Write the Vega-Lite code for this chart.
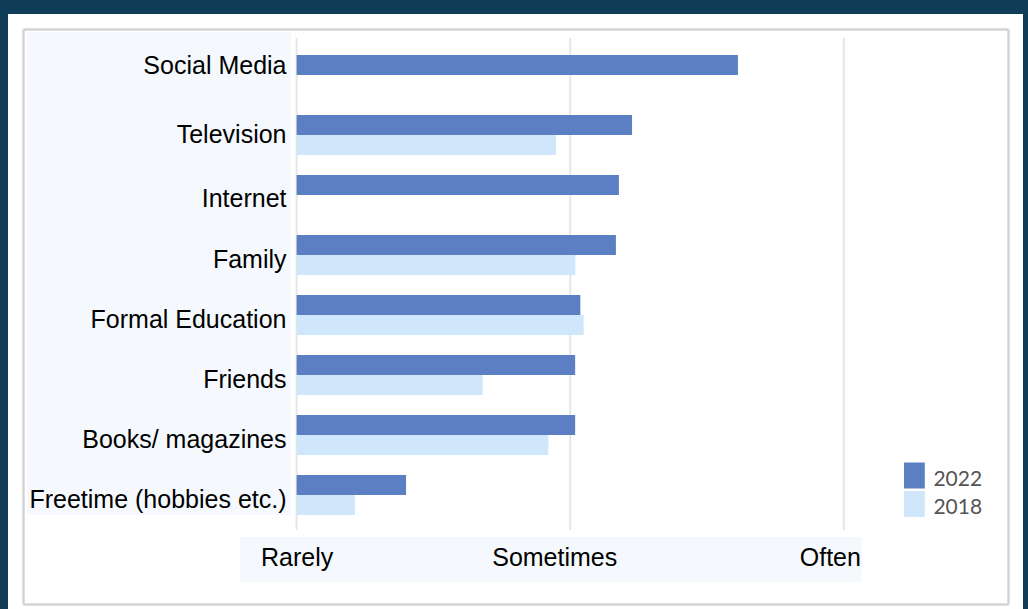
{
  "$schema": "https://vega.github.io/schema/vega-lite/v6.json",
  "width": 985,
  "height": 575,
  "autosize": {"type": "none"},
  "padding": {"left": 23, "top": 29, "right": 20, "bottom": 5},
  "background": "#0f3c56",
  "config": {
    "view": {"fill": "white", "stroke": "white", "strokeWidth": 30},
    "font": "Liberation Sans"
  },
  "resolve": {"axis": {"x": "independent", "y": "independent"}},
  "layer": [
    {
      "data": {"values": [{"panel": "labels"}]},
      "mark": {"type": "rect", "color": "#f5f9fd"},
      "encoding": {
        "x": {"datum": 0.0146, "type": "quantitative", "axis": null},
        "x2": {"datum": 0.9795},
        "y": {"datum": "Social Media", "bandPosition": -0.575, "axis": null},
        "y2": {"datum": "Freetime (hobbies etc.)", "bandPosition": 1.0}
      }
    },
    {
      "data": {"values": [{"panel": "axis"}]},
      "mark": {"type": "rect", "color": "#f5f9fd"},
      "encoding": {
        "x": {"datum": 0.7931, "type": "quantitative", "axis": null},
        "x2": {"datum": 3.0658},
        "y": {"datum": "Freetime (hobbies etc.)", "bandPosition": 1.55, "axis": null},
        "y2": {"datum": "Freetime (hobbies etc.)", "bandPosition": 2.675}
      }
    },
    {
      "data": {"values": [{"level": 1}, {"level": 2}, {"level": 3}]},
      "mark": {"type": "rule", "color": "#e6e6e6", "strokeWidth": 2},
      "encoding": {
        "x": {"field": "level", "type": "quantitative", "axis": {"orient": "top", "labels": false, "ticks": false, "grid": false, "title": null, "domainColor": "#d3d3d3", "domainWidth": 2.5, "zindex": 1}},
        "y": {"datum": "Social Media", "bandPosition": -0.425, "axis": {"orient": "right", "labels": false, "ticks": false, "grid": false, "title": null, "domainColor": "#d3d3d3", "domainWidth": 2.5, "zindex": 1}},
        "y2": {"datum": "Freetime (hobbies etc.)", "bandPosition": 1.375}
      }
    },
    {
      "data": {"values": [
        {"source": "Social Media", "year": "2022", "value": 2.613},
        {"source": "Television", "year": "2022", "value": 2.226},
        {"source": "Television", "year": "2018", "value": 1.948},
        {"source": "Internet", "year": "2022", "value": 2.178},
        {"source": "Family", "year": "2022", "value": 2.167},
        {"source": "Family", "year": "2018", "value": 2.019},
        {"source": "Formal Education", "year": "2022", "value": 2.037},
        {"source": "Formal Education", "year": "2018", "value": 2.049},
        {"source": "Friends", "year": "2022", "value": 2.018},
        {"source": "Friends", "year": "2018", "value": 1.68},
        {"source": "Books/ magazines", "year": "2022", "value": 2.018},
        {"source": "Books/ magazines", "year": "2018", "value": 1.92},
        {"source": "Freetime (hobbies etc.)", "year": "2022", "value": 1.4},
        {"source": "Freetime (hobbies etc.)", "year": "2018", "value": 1.213}
      ]},
      "mark": {"type": "bar"},
      "encoding": {
        "y": {
          "field": "source", "type": "nominal",
          "scale": {"domain": ["Social Media", "Television", "Internet", "Family", "Formal Education", "Friends", "Books/ magazines", "Freetime (hobbies etc.)"], "paddingInner": 0.3333, "paddingOuter": 0.9583, "align": 0.2261},
          "axis": {
            "orient": "left", "zindex": 1,
            "title": null, "ticks": false, "tickSize": 0, "labelPadding": -263, "labelAlign": "right", "labelBaseline": "middle",
            "labelFontSize": 25, "labelColor": "#000000", "labelLimit": 0, "labelOverlap": false, "grid": false,
            "domainColor": "#d3d3d3", "domainWidth": 2.5,
            "labelOffset": {"condition": [{"test": "datum.value === 'Social Media'", "value": -9}, {"test": "datum.value === 'Television'", "value": 0}, {"test": "datum.value === 'Internet'", "value": 4}], "value": 5}
          }
        },
        "yOffset": {"field": "year", "type": "nominal", "scale": {"domain": ["2022", "2018"], "paddingInner": 0, "paddingOuter": 0}},
        "x": {
          "field": "value", "type": "quantitative",
          "scale": {"domain": [0, 3.6], "nice": false, "zero": false},
          "axis": {
            "orient": "bottom", "zindex": 1,
            "title": null, "values": [1, 2, 3],
            "labelExpr": "datum.value == 1 ? 'Rarely' : datum.value == 2 ? 'Sometimes' : 'Often'",
            "ticks": false, "tickSize": 0, "labelPadding": -39, "labelBaseline": "alphabetic",
            "labelFontSize": 25, "labelColor": "#000000", "labelFlush": false, "labelOverlap": false, "grid": false,
            "domainColor": "#d3d3d3", "domainWidth": 2.5,
            "labelOffset": {"condition": [{"test": "datum.value == 2", "value": -16}, {"test": "datum.value == 3", "value": -14}], "value": 0}
          }
        },
        "x2": {"datum": 1},
        "color": {
          "field": "year", "type": "nominal",
          "scale": {"domain": ["2022", "2018"], "range": ["#5b7fc2", "#cfe6fb"]},
          "legend": {
            "title": null, "orient": "none", "legendX": 878.4, "legendY": 433.5,
            "symbolType": "M-0.8,-1H0.8V1H-0.8Z", "symbolSize": 676, "symbolStrokeWidth": 0, "symbolOpacity": 1,
            "labelFont": "Lato", "labelFontSize": 21, "labelColor": "#555555", "labelOffset": 6,
            "rowPadding": 1.5, "padding": 0,
            "encode": {"labels": {"update": {"dy": {"value": 4}}}}
          }
        }
      }
    }
  ]
}
